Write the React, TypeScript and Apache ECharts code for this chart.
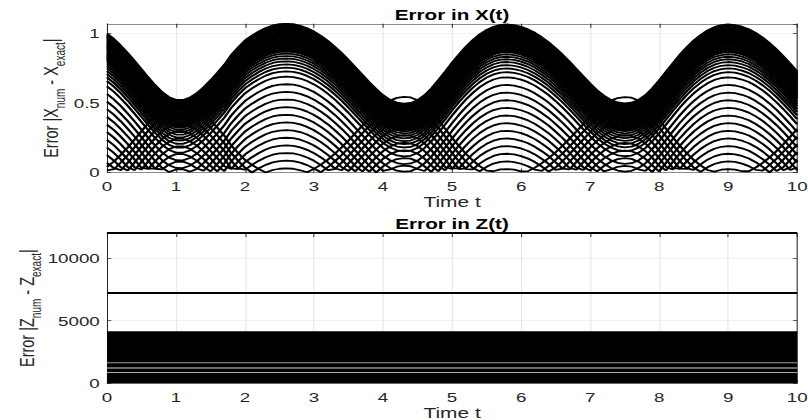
import React, { useEffect, useRef } from "react";
import * as echarts from "echarts";

// ---------- data ----------
// sample times (s)
const timeT = [
  0, 0.1, 0.2, 0.3, 0.4, 0.5, 0.6, 0.7, 0.8, 0.9,
  1, 1.1, 1.2, 1.3, 1.4, 1.5, 1.6, 1.7, 1.8, 1.9,
  2, 2.1, 2.2, 2.3, 2.4, 2.5, 2.6, 2.7, 2.8, 2.9,
  3, 3.1, 3.2, 3.3, 3.4, 3.5, 3.6, 3.7, 3.8, 3.9,
  4, 4.1, 4.2, 4.3, 4.4, 4.5, 4.6, 4.7, 4.8, 4.9,
  5, 5.1, 5.2, 5.3, 5.4, 5.5, 5.6, 5.7, 5.8, 5.9,
  6, 6.1, 6.2, 6.3, 6.4, 6.5, 6.6, 6.7, 6.8, 6.9,
  7, 7.1, 7.2, 7.3, 7.4, 7.5, 7.6, 7.7, 7.8, 7.9,
  8, 8.1, 8.2, 8.3, 8.4, 8.5, 8.6, 8.7, 8.8, 8.9,
  9, 9.1, 9.2, 9.3, 9.4, 9.5, 9.6, 9.7, 9.8, 9.9,
  10,
];

// upper envelope of the X-error family (top black edge)
const envelopeX = [
  1.0, 0.961, 0.913, 0.86, 0.803, 0.743, 0.683, 0.627, 0.578, 0.542,
  0.523, 0.522, 0.539, 0.57, 0.613, 0.663, 0.718, 0.775, 0.845, 0.9,
  0.95, 0.985, 1.015, 1.04, 1.058, 1.067, 1.07, 1.067, 1.056, 1.038,
  1.014, 0.983, 0.947, 0.905, 0.859, 0.809, 0.756, 0.703, 0.65, 0.6,
  0.556, 0.523, 0.503, 0.496, 0.5, 0.52, 0.556, 0.605, 0.664, 0.726,
  0.79, 0.85, 0.905, 0.953, 0.994, 1.026, 1.049, 1.062, 1.065, 1.06,
  1.048, 1.03, 1.005, 0.973, 0.937, 0.894, 0.848, 0.798, 0.745, 0.692,
  0.64, 0.592, 0.553, 0.523, 0.504, 0.497, 0.502, 0.522, 0.556, 0.604,
  0.662, 0.725, 0.787, 0.847, 0.901, 0.949, 0.989, 1.022, 1.046, 1.06,
  1.065, 1.061, 1.049, 1.031, 1.004, 0.971, 0.931, 0.886, 0.836, 0.783,
  0.727,
];

// depth of each curve of the family below the envelope (read at the hump peaks)
const curveOffsetsX = [
  0, 0.008, 0.016, 0.024, 0.032, 0.04, 0.048, 0.056, 0.064, 0.072,
  0.08, 0.088, 0.096, 0.104, 0.112, 0.12, 0.128, 0.136, 0.144, 0.152,
  0.16, 0.168, 0.176, 0.184, 0.192, 0.2,
  0.215, 0.232, 0.25, 0.27, 0.292, 0.316, 0.343,
  0.38, 0.435, 0.49, 0.545, 0.6, 0.655, 0.71, 0.765, 0.82, 0.875,
  0.93, 0.985, 1.04,
];

// Z-error levels (constant in time)
const zTimeSpan = [0, 10];
const zDenseBandTop = 4100;
const zSolidLevels = [7200, 12000];
const zGapLevels = [1650, 1230, 860];
const zGapColors = ["#9c9c9c", "#d4d4d4", "#a8a8a8"];

// axis ticks
const xLimits = [0, 10];
const xStep = 1;
const yLimitsX = [0, 1.07];
const yStepX = 0.5;
const yLimitsZ = [0, 12000];
const yStepZ = 5000;

// ---------- styling ----------
const FONT = "'Liberation Sans', Arial, Helvetica, sans-serif";
const AX = "#262626";
const GRIDC = "#e3e3e3";
const STRETCH = 808 / 560;

const grids = [
  { left: 74.15, top: 23.8, width: 478.35, height: 148.7 },
  { left: 74.15, top: 233, width: 478.35, height: 150.3 },
];

function xAxes(gridIndex: number) {
  const common = {
    type: "value",
    gridIndex,
    min: xLimits[0],
    max: xLimits[1],
    interval: xStep,
    axisLine: { show: true, onZero: false, lineStyle: { color: AX, width: 0.7 } },
    axisTick: { show: true, inside: true, length: 4, lineStyle: { color: AX, width: 0.7 } },
  };
  return [
    {
      ...common,
      position: "bottom",
      axisLabel: { color: AX, fontSize: 13, fontFamily: FONT, margin: 7 },
      splitLine: { show: true, lineStyle: { color: GRIDC, width: 0.7 } },
      name: "Time t",
      nameLocation: "middle",
      nameGap: 22,
      nameMoveOverlap: false,
      nameTextStyle: { color: AX, fontSize: 14.5, fontFamily: FONT },
    },
    {
      ...common,
      position: "top",
      axisLabel: { show: false },
      splitLine: { show: false },
    },
  ];
}

function yAxes(gridIndex: number, lim: number[], step: number, name: string, gap: number) {
  const common = {
    type: "value",
    gridIndex,
    min: lim[0],
    max: lim[1],
    interval: step,
    axisLine: { show: true, onZero: false, lineStyle: { color: AX, width: 0.7 } },
    axisTick: { show: true, inside: true, length: 3, lineStyle: { color: AX, width: 0.7 } },
  };
  return [
    {
      ...common,
      position: "left",
      axisLabel: {
        color: AX,
        fontSize: 13,
        fontFamily: FONT,
        margin: 5,
        showMaxLabel: false,
        formatter: (v: number) => String(v),
      },
      splitLine: { show: true, lineStyle: { color: GRIDC, width: 0.7 } },
      name,
      nameLocation: "middle",
      nameRotate: 90,
      nameGap: gap,
      nameMoveOverlap: false,
      nameTextStyle: {
        color: AX,
        fontFamily: FONT,
        rich: {
          m: { fontSize: 14.5, fontFamily: FONT, color: AX, verticalAlign: "top", lineHeight: 18 },
          s: {
            fontSize: 10,
            fontFamily: FONT,
            color: AX,
            verticalAlign: "top",
            lineHeight: 12,
            padding: [9, 0, 0, 0],
          },
        },
      },
    },
    {
      ...common,
      position: "right",
      axisLabel: { show: false },
      splitLine: { show: false },
    },
  ];
}

function buildOption() {
  const series: any[] = [];

  curveOffsetsX.forEach((c, k) => {
    series.push({
      name: "x" + k,
      type: "line",
      xAxisIndex: 0,
      yAxisIndex: 0,
      data: timeT.map((t, i) => [t, Math.abs(envelopeX[i] - c)]),
      showSymbol: false,
      symbol: "none",
      silent: true,
      lineStyle: { color: "#000", width: 1.8 },
    });
  });

  series.push({
    name: "zBand",
    type: "line",
    xAxisIndex: 2,
    yAxisIndex: 2,
    data: zTimeSpan.map((t) => [t, zDenseBandTop]),
    showSymbol: false,
    symbol: "none",
    silent: true,
    lineStyle: { color: "#000", width: 1.2 },
    areaStyle: { color: "#000", opacity: 1 },
  });
  zGapLevels.forEach((v, k) => {
    series.push({
      name: "zGap" + k,
      type: "line",
      xAxisIndex: 2,
      yAxisIndex: 2,
      data: zTimeSpan.map((t) => [t, v]),
      showSymbol: false,
      symbol: "none",
      silent: true,
      lineStyle: { color: zGapColors[k], width: 1 },
    });
  });
  zSolidLevels.forEach((v, k) => {
    series.push({
      name: "zLine" + k,
      type: "line",
      xAxisIndex: 2,
      yAxisIndex: 2,
      data: zTimeSpan.map((t) => [t, v]),
      showSymbol: false,
      symbol: "none",
      silent: true,
      clip: false,
      lineStyle: { color: "#000", width: 2 },
    });
  });

  return {
    animation: false,
    backgroundColor: "#ffffff",
    textStyle: { fontFamily: FONT },
    grid: grids.map((g) => ({ ...g, containLabel: false, outerBoundsMode: "none" })),
    xAxis: [...xAxes(0), ...xAxes(1)],
    yAxis: [
      ...yAxes(0, yLimitsX, yStepX, "{m|Error |X}{s|num}{m| - X}{s|exact}{m||}", 28),
      ...yAxes(1, yLimitsZ, yStepZ, "{m|Error |Z}{s|num}{m| - Z}{s|exact}{m||}", 45),
    ],
    graphic: [
      {
        type: "text",
        x: 313.3,
        y: 15,
        silent: true,
        style: {
          text: "Error in X(t)",
          align: "center",
          verticalAlign: "middle",
          fontSize: 14.3,
          fontWeight: "bold",
          fontFamily: FONT,
          fill: "#000",
        },
      },
      {
        type: "text",
        x: 313.3,
        y: 224,
        silent: true,
        style: {
          text: "Error in Z(t)",
          align: "center",
          verticalAlign: "middle",
          fontSize: 14.3,
          fontWeight: "bold",
          fontFamily: FONT,
          fill: "#000",
        },
      },
    ],
    series,
  };
}

export default function App() {
  const ref = useRef<HTMLDivElement>(null);
  useEffect(() => {
    if (!ref.current) return;
    const chart = echarts.init(ref.current, undefined, { renderer: "svg" });
    chart.setOption(buildOption() as any);
    return () => chart.dispose();
  }, []);
  return (
    <div
      style={{
        position: "fixed",
        left: 0,
        top: 0,
        width: 808,
        height: 420,
        overflow: "hidden",
        background: "#ffffff",
      }}
    >
      <div
        ref={ref}
        style={{
          width: 560,
          height: 420,
          transform: `scaleX(${STRETCH})`,
          transformOrigin: "0 0",
        }}
      />
    </div>
  );
}
